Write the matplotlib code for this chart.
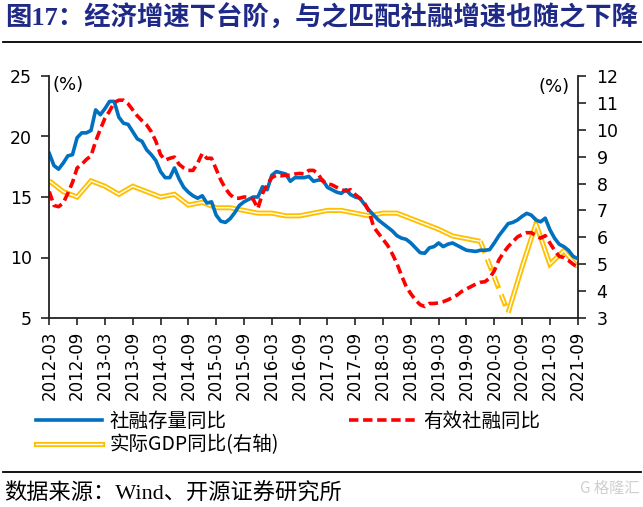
import numpy as np
import pandas as pd
import matplotlib
matplotlib.use('Agg')
import matplotlib.pyplot as plt
from matplotlib.lines import Line2D
from matplotlib.font_manager import FontProperties

# ---------------- data ----------------
months = pd.period_range('2012-03', '2021-09', freq='M').strftime('%Y-%m').tolist()
tick_labels = months[::6]

tsf_stock_yoy = [
    18.6, 17.6, 17.3, 17.8, 18.4, 18.5, 19.9, 20.3, 20.3, 20.5,
    22.2, 21.8, 22.3, 22.9, 22.9, 21.6, 21.1, 21.0, 20.4, 19.8,
    19.6, 18.9, 18.5, 18.0, 17.1, 16.6, 16.6, 17.4, 16.5, 15.8,
    15.4, 15.1, 14.9, 15.1, 14.5, 14.6, 13.5, 13.0, 12.9, 13.2,
    13.7, 14.3, 14.6, 14.8, 15.0, 15.0, 15.85, 15.6, 16.8, 17.1,
    17.0, 16.9, 16.3, 16.6, 16.6, 16.6, 16.7, 16.3, 16.4, 16.4,
    15.8, 15.6, 15.4, 15.3, 15.6, 15.2, 15.0, 14.9, 14.4, 13.9,
    13.5, 13.1, 12.8, 12.5, 12.2, 11.8, 11.6, 11.5, 11.2, 10.8,
    10.4, 10.35, 10.8, 10.9, 11.2, 10.9, 11.1, 11.2, 11.0, 10.8,
    10.6, 10.55, 10.5, 10.6, 10.6, 10.65, 11.2, 11.8, 12.3, 12.8,
    12.9, 13.1, 13.4, 13.65, 13.5, 13.1, 12.95, 13.25, 12.3, 11.6,
    11.1, 10.9, 10.6, 10.1, 9.9,
]

tsf_effective_yoy = [
    15.45, 14.3, 14.2, 14.5, 15.3, 16.2, 17.4, 17.7, 18.1, 18.4,
    19.6, 20.6, 21.5, 22.1, 22.8, 23.0, 23.0, 22.7, 22.2, 21.7,
    21.3, 20.95, 20.4, 19.6, 18.5, 18.05, 18.2, 18.3, 17.7, 17.4,
    17.2, 17.2, 17.8, 18.6, 18.2, 18.2, 17.3, 16.4, 15.7, 15.2,
    14.9, 14.9, 15.0, 15.0, 14.8, 14.05, 15.3, 16.0, 16.6, 16.8,
    16.75, 16.8, 16.8, 16.9, 16.95, 16.9, 17.2, 17.2, 16.9, 16.3,
    16.1, 16.0, 15.8, 15.6, 15.5, 15.6, 15.2, 14.9, 14.5, 13.8,
    12.5, 12.0, 11.5, 11.0, 10.3, 9.5, 8.5, 7.6, 7.0, 6.5,
    6.1, 5.95, 6.2, 6.2, 6.25, 6.35, 6.5, 6.7, 6.9, 7.2,
    7.4, 7.6, 7.8, 7.95, 8.0, 8.3, 8.9, 9.8, 10.4, 10.9,
    11.3, 11.7, 11.9, 12.05, 12.05, 11.8, 11.6, 11.8, 11.2, 10.6,
    10.1, 10.0, 9.75, 9.45, 9.2,
]

gdp_quarters = months[::3]
gdp_yoy = [
    8.1, 7.7, 7.5, 8.1,
    7.9, 7.6, 7.9, 7.7,
    7.5, 7.6, 7.2, 7.3,
    7.1, 7.1, 7.0, 6.9,
    6.9, 6.8, 6.8, 6.9,
    7.0, 7.0, 6.9, 6.8,
    6.9, 6.9, 6.7, 6.5,
    6.3, 6.05, 5.95, 5.85,
    np.nan, 3.2, 4.9, 6.5,
    5.0, 5.5, 4.9,
]

# ---------------- style ----------------
CJK = ['Noto Sans CJK SC', 'DejaVu Sans']
SERIF_CJK = ['Liberation Serif', 'Noto Sans CJK SC']
plt.rcParams['font.family'] = 'DejaVu Sans'

BLUE = '#0070C0'
RED = '#FF0000'
YELLOW = '#FFC000'
SPINE = '#222222'

W, H = 643, 507
def fx(px):
    return px / W
def fy(py):
    return 1 - py / H

fig = plt.figure(figsize=(W / 100, H / 100), dpi=100)
fig.patch.set_facecolor('white')

L, R, T, B = 49.3, 577.7, 76, 318
ax = fig.add_axes([fx(L), fy(B), fx(R) - fx(L), fy(T) - fy(B)])
ax2 = ax.twinx()
ax.set_zorder(ax2.get_zorder() + 1)
ax.patch.set_visible(False)

x = np.arange(len(months))
xq = np.array([months.index(q) for q in gdp_quarters])
g = np.array(gdp_yoy, dtype=float)

# GDP (right axis): double line look
ax2.plot(xq, g, color=YELLOW, lw=3.7, solid_capstyle='butt', solid_joinstyle='miter')
ax2.plot(xq, g, color='white', lw=1.0, solid_joinstyle='miter')
gap = np.where(np.isnan(g))[0]
for i in gap:
    seg_x = xq[[i - 1, i + 1]]
    seg_y = g[[i - 1, i + 1]]
    ax2.plot(seg_x, seg_y, color=YELLOW, lw=3.7, linestyle=(0, (2.4, 1.3)), dash_capstyle='butt')
    ax2.plot(seg_x, seg_y, color='white', lw=1.0, linestyle=(0.6, (7.2, 6.6)), dash_capstyle='butt')

# TSF lines (left axis)
ax.plot(x, tsf_stock_yoy, color=BLUE, lw=2.6, solid_joinstyle='round')
ax.plot(x, tsf_effective_yoy, color=RED, lw=2.6, linestyle=(0, (2.6, 1.3)), dash_capstyle='butt')

# axes
ax.set_xlim(0, len(months) - 1)
ax.set_ylim(5, 25)
ax.set_yticks([5, 10, 15, 20, 25])
ax2.set_ylim(3, 12)
ax2.set_yticks(range(3, 13))

ax.set_xticks(x[::6])
ax.set_xticklabels(tick_labels, rotation=90, fontsize=12)
ax.tick_params(axis='x', direction='out', length=5, width=1.2, color=SPINE, pad=4)
ax.tick_params(axis='y', direction='out', length=5.5, width=1.2, color=SPINE, pad=7, labelsize=12.5)
ax2.tick_params(axis='y', direction='out', length=5.5, width=1.2, color=SPINE, pad=8, labelsize=12.5)

for s in ['top', 'right']:
    ax.spines[s].set_visible(False)
for s in ['top', 'left', 'bottom']:
    ax2.spines[s].set_visible(False)
for a, side in [(ax, 'left'), (ax, 'bottom'), (ax2, 'right')]:
    a.spines[side].set_color(SPINE)
    a.spines[side].set_linewidth(1.3)

fig.text(fx(53), fy(85), '(%)', fontsize=13, va='center', ha='left')
fig.text(fx(570), fy(87), '(%)', fontsize=13, va='center', ha='right')

# legend
prop = FontProperties(family=CJK, size=14)
h_blue = Line2D([], [], color=BLUE, lw=2.6)
h_red = Line2D([], [], color=RED, lw=2.6, linestyle=(0, (2.6, 1.3)))
h_yel = (Line2D([], [], color=YELLOW, lw=3.7), Line2D([], [], color='white', lw=1.0))
leg1 = fig.legend([h_blue, h_yel], ['社融存量同比', '实际GDP同比(右轴)'],
                  loc='upper left', bbox_to_anchor=(fx(36), fy(411)),
                  frameon=False, prop=prop, handlelength=3.4, handletextpad=0.4,
                  borderpad=0, borderaxespad=0, labelspacing=0.12)
leg2 = fig.legend([h_red], ['有效社融同比'],
                  loc='upper left', bbox_to_anchor=(fx(349), fy(411)),
                  frameon=False, prop=prop, handlelength=3.4, handletextpad=0.4,
                  borderpad=0, borderaxespad=0)

# title, rules, source
fig.text(fx(5), fy(18), '图17：经济增速下台阶，与之匹配社融增速也随之下降',
         fontsize=19, fontweight='bold', color='#1F2A86', va='center', ha='left',
         family=SERIF_CJK)
fig.add_artist(Line2D([fx(3), fx(641)], [fy(41.7), fy(41.7)], color='black', lw=1.3))
fig.add_artist(Line2D([fx(3), fx(641)], [fy(471.7), fy(471.7)], color='black', lw=1.3))
fig.text(fx(4), fy(494), '数据来源：Wind、开源证券研究所', fontsize=16,
         va='center', ha='left', family=SERIF_CJK)
fig.text(fx(640), fy(488), 'G 格隆汇', fontsize=11, color='#cfcfcf',
         va='center', ha='right', family=CJK)

fig.savefig('out.png', dpi=100)
